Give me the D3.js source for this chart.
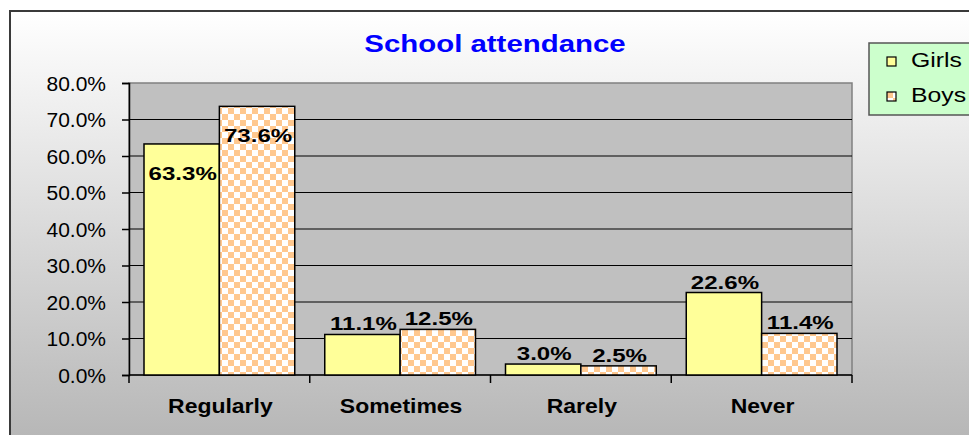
<!DOCTYPE html>
<html>
<head>
<meta charset="utf-8">
<script src="https://cdn.jsdelivr.net/npm/d3@7"></script>
<style>
  body { margin: 0; background: #fff; }
  text { font-family: Arial, "Liberation Sans", sans-serif; }
</style>
</head>
<body>
<div id="chart"></div>
<script>
const categories = ["Regularly", "Sometimes", "Rarely", "Never"];
const series = ["Girls", "Boys"];
const girls = [63.3, 11.1, 3.0, 22.6];
const boys = [73.6, 12.5, 2.5, 11.4];
const yTicks = [0, 10, 20, 30, 40, 50, 60, 70, 80];

const W = 969, H = 435;
const plot = {left: 129, top: 83, right: 852, bottom: 375};

var svg = d3.select("#chart").append("svg")
    .attr("width", W)
    .attr("height", H);

var defs = svg.append("defs");

// widen glyphs a bit, the way the original renderer did
function stretch(sel, k) {
    sel.each(function() {
        var w = this.getComputedTextLength();
        d3.select(this)
            .attr("textLength", w * k)
            .attr("lengthAdjust", "spacingAndGlyphs");
    });
}

// chart area background gradient
var grad = defs.append("linearGradient")
    .attr("id", "bg")
    .attr("x1", 0).attr("y1", 0).attr("x2", 0).attr("y2", 1);
grad.append("stop").attr("offset", "0%").attr("stop-color", "#ffffff");
grad.append("stop").attr("offset", "100%").attr("stop-color", "#b2b2b2");

// checkerboard for boys
var pat = defs.append("pattern")
    .attr("id", "checker")
    .attr("patternUnits", "userSpaceOnUse")
    .attr("width", 12).attr("height", 12);
pat.append("rect").attr("width", 12).attr("height", 12).attr("fill", "#ffffff");
pat.append("rect").attr("width", 6).attr("height", 6).attr("fill", "#ffc88f");
pat.append("rect").attr("x", 6).attr("y", 6).attr("width", 6).attr("height", 6).attr("fill", "#ffc88f");

var fills = {Girls: "#ffff99", Boys: "url(#checker)"};

svg.append("rect")
    .attr("x", 10).attr("y", 11)
    .attr("width", W + 20).attr("height", H + 20)
    .attr("fill", "url(#bg)")
    .attr("stroke", "#3a3a3a")
    .attr("stroke-width", 2);

// title
svg.append("text")
    .attr("x", 495).attr("y", 52)
    .attr("text-anchor", "middle")
    .style("font-size", "24.5px")
    .style("font-weight", "bold")
    .attr("fill", "#0000ff")
    .text("School attendance")
    .call(stretch, 1.2);

var x = d3.scaleBand()
    .domain(categories)
    .range([plot.left, plot.right]);

var xSub = d3.scaleBand()
    .domain(series)
    .range([15, x.bandwidth() - 15]);

var y = d3.scaleLinear()
    .domain([0, 80])
    .range([plot.bottom, plot.top]);

// plot area
svg.append("rect")
    .attr("x", plot.left).attr("y", plot.top)
    .attr("width", plot.right - plot.left)
    .attr("height", plot.bottom - plot.top)
    .attr("fill", "#c0c0c0")
    .attr("stroke", "#808080")
    .attr("stroke-width", 1.5);

// gridlines
svg.append("g")
    .selectAll("line")
    .data(yTicks.filter(function(d) { return d > 0 && d < 80; }))
    .enter().append("line")
    .attr("x1", plot.left).attr("x2", plot.right)
    .attr("y1", function(d) { return y(d); })
    .attr("y2", function(d) { return y(d); })
    .attr("stroke", "#000")
    .attr("stroke-width", 1);

// y axis
var yAxis = svg.append("g")
    .attr("transform", "translate(" + plot.left + ",0)")
    .call(d3.axisLeft(y).tickValues(yTicks).tickSize(7).tickPadding(16)
        .tickFormat(function(d) { return d.toFixed(1) + "%"; }));
yAxis.select(".domain").attr("stroke", "#000").attr("stroke-width", 1.5);
yAxis.selectAll(".tick line").attr("stroke", "#000").attr("stroke-width", 1.5);
yAxis.selectAll(".tick text")
    .attr("fill", "#000")
    .attr("dy", "0.36em")
    .style("font-size", "20px")
    .style("font-family", "Arial, 'Liberation Sans', sans-serif")
    .call(stretch, 1.05);

// x axis
var xAxis = svg.append("g")
    .attr("transform", "translate(0," + plot.bottom + ")");
xAxis.append("line")
    .attr("x1", plot.left).attr("x2", plot.right)
    .attr("stroke", "#000").attr("stroke-width", 1.5);
xAxis.selectAll(".xt")
    .data(categories.concat(["end"]))
    .enter().append("line")
    .attr("class", "xt")
    .attr("x1", function(d, i) { return i < categories.length ? x(d) : plot.right; })
    .attr("x2", function(d, i) { return i < categories.length ? x(d) : plot.right; })
    .attr("y1", 0).attr("y2", 8)
    .attr("stroke", "#000").attr("stroke-width", 1.5);
xAxis.selectAll(".xl")
    .data(categories)
    .enter().append("text")
    .attr("class", "xl")
    .attr("x", function(d) { return x(d) + x.bandwidth() / 2 + 1; })
    .attr("y", 38)
    .attr("text-anchor", "middle")
    .style("font-size", "20.5px")
    .style("font-weight", "bold")
    .text(function(d) { return d; })
    .call(stretch, 1.12);

// bars
var rows = [];
categories.forEach(function(c, i) {
    rows.push({cat: c, s: "Girls", v: girls[i]});
    rows.push({cat: c, s: "Boys", v: boys[i]});
});

svg.append("g").selectAll("rect")
    .data(rows)
    .enter().append("rect")
    .attr("x", function(d) { return x(d.cat) + xSub(d.s); })
    .attr("width", xSub.bandwidth())
    .attr("y", function(d) { return y(d.v); })
    .attr("height", function(d) { return y(0) - y(d.v); })
    .attr("fill", function(d) { return fills[d.s]; })
    .attr("stroke", "#000")
    .attr("stroke-width", 1.5);

// data labels
svg.append("g").selectAll("text")
    .data(rows)
    .enter().append("text")
    .attr("x", function(d) { return x(d.cat) + xSub(d.s) + xSub.bandwidth() / 2 + 1; })
    .attr("y", function(d) { return d.v > 50 ? y(d.v) + 36 : y(d.v) - 4; })
    .attr("text-anchor", "middle")
    .style("font-size", "18.5px")
    .style("font-weight", "bold")
    .text(function(d) { return d.v.toFixed(1) + "%"; })
    .call(stretch, 1.3);

// legend
var legend = svg.append("g").attr("transform", "translate(869,43)");
legend.append("rect")
    .attr("width", 120).attr("height", 72)
    .attr("fill", "#ccffcc")
    .attr("stroke", "#555")
    .attr("stroke-width", 1.5);
var li = legend.selectAll(".li")
    .data(series)
    .enter().append("g")
    .attr("class", "li")
    .attr("transform", function(d, i) { return "translate(18," + (14 + i * 35) + ")"; });
li.append("rect")
    .attr("width", 9).attr("height", 9)
    .attr("fill", function(d) { return fills[d]; })
    .attr("stroke", "#000")
    .attr("stroke-width", 1.2);
li.append("text")
    .attr("x", 24).attr("y", 10)
    .style("font-size", "21px")
    .text(function(d) { return d; })
    .call(stretch, 1.18);
</script>
</body>
</html>
